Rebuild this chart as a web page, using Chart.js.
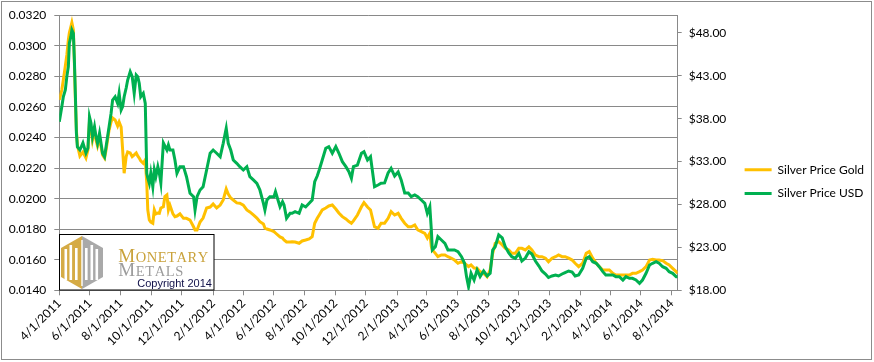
<!DOCTYPE html>
<html><head><meta charset="utf-8">
<script src="https://cdn.jsdelivr.net/npm/chart.js@4.4.1/dist/chart.umd.min.js"></script>
<style>html,body{margin:0;padding:0;background:#fff}#wrap{position:relative;width:874px;height:362px}</style>
</head><body><div id="wrap"><canvas id="c" width="874" height="362"></canvas></div>
<script>
const dates=[
"2011-04-01","2011-04-06","2011-04-09","2011-04-13","2011-04-16","2011-04-19","2011-04-21","2011-04-24","2011-04-26","2011-04-29",
"2011-05-01","2011-05-03","2011-05-05","2011-05-07","2011-05-12","2011-05-18","2011-05-24","2011-05-28","2011-05-31","2011-06-03",
"2011-06-06","2011-06-10","2011-06-13","2011-06-16","2011-06-20","2011-06-26","2011-06-30","2011-07-03","2011-07-06","2011-07-09",
"2011-07-13","2011-07-16","2011-07-21","2011-07-26","2011-07-29","2011-08-02","2011-08-05","2011-08-08","2011-08-12","2011-08-15",
"2011-08-20","2011-08-24","2011-08-28","2011-09-01","2011-09-04","2011-09-07","2011-09-10","2011-09-15","2011-09-19","2011-09-22",
"2011-09-24","2011-09-27","2011-09-30","2011-10-04","2011-10-07","2011-10-10","2011-10-14","2011-10-17","2011-10-20","2011-10-25",
"2011-10-28","2011-11-01","2011-11-04","2011-11-07","2011-11-13","2011-11-17","2011-11-21","2011-11-27","2011-12-04","2011-12-10",
"2011-12-17","2011-12-24","2011-12-27","2011-12-31","2012-01-06","2012-01-12","2012-01-19","2012-01-26","2012-02-01","2012-02-08",
"2012-02-15","2012-02-21","2012-02-27","2012-03-02","2012-03-07","2012-03-12","2012-03-19","2012-03-25","2012-04-01","2012-04-08",
"2012-04-14","2012-04-21","2012-04-28","2012-05-04","2012-05-11","2012-05-14","2012-05-18","2012-05-24","2012-06-01","2012-06-04",
"2012-06-13","2012-06-18","2012-06-21","2012-06-26","2012-07-03","2012-07-07","2012-07-13","2012-07-21","2012-07-27","2012-08-03",
"2012-08-10","2012-08-16","2012-08-21","2012-08-26","2012-08-30","2012-09-05","2012-09-12","2012-09-18","2012-09-25","2012-10-02",
"2012-10-08","2012-10-15","2012-10-22","2012-10-28","2012-11-02","2012-11-06","2012-11-14","2012-11-22","2012-11-27","2012-12-04",
"2012-12-10","2012-12-18","2012-12-25","2012-12-31","2013-01-07","2013-01-14","2013-01-20","2013-01-27","2013-02-03","2013-02-09",
"2013-02-16","2013-02-23","2013-03-01","2013-03-08","2013-03-14","2013-03-21","2013-03-28","2013-04-02","2013-04-07","2013-04-10",
"2013-04-12","2013-04-18","2013-04-23","2013-04-30","2013-05-07","2013-05-13","2013-05-20","2013-05-26","2013-06-02","2013-06-09",
"2013-06-15","2013-06-19","2013-06-23","2013-06-28","2013-07-04","2013-07-10","2013-07-16","2013-07-23","2013-07-30","2013-08-05",
"2013-08-10","2013-08-15","2013-08-22","2013-08-29","2013-09-04","2013-09-11","2013-09-17","2013-09-24","2013-10-01","2013-10-07",
"2013-10-14","2013-10-21","2013-10-27","2013-11-03","2013-11-10","2013-11-16","2013-11-23","2013-11-29","2013-12-06","2013-12-13",
"2013-12-19","2013-12-26","2014-01-01","2014-01-08","2014-01-15","2014-01-21","2014-01-28","2014-02-05","2014-02-12","2014-02-18",
"2014-02-25","2014-03-04","2014-03-10","2014-03-17","2014-03-23","2014-03-30","2014-04-06","2014-04-12","2014-04-19","2014-04-26",
"2014-05-02","2014-05-09","2014-05-15","2014-05-22","2014-05-29","2014-06-04","2014-06-11","2014-06-18","2014-06-24","2014-07-01",
"2014-07-07","2014-07-14","2014-07-21","2014-07-27","2014-08-03","2014-08-10","2014-08-13"
];
const silverUSD=[
37.65,39.40,40.56,41.35,42.90,44.06,46.79,47.56,48.34,47.95,
44.84,40.76,36.33,34.70,34.35,35.17,34.00,34.59,38.23,37.50,
35.90,37.07,35.90,35.13,36.30,33.97,33.57,34.74,35.90,37.07,
38.63,40.18,40.56,39.79,40.96,39.01,39.40,40.56,41.58,42.51,
43.48,42.90,40.96,43.09,42.90,42.13,40.56,40.96,39.79,31.64,
31.09,30.47,31.67,30.07,32.02,31.24,32.41,31.64,30.51,35.17,
34.82,34.35,34.93,34.35,34.35,33.19,31.64,32.41,32.41,31.24,
29.31,28.91,27.36,28.91,29.69,30.07,32.02,33.97,34.35,33.97,
33.57,35.13,36.88,35.13,34.35,33.19,32.80,32.41,32.02,32.41,
31.24,30.86,30.47,29.69,28.14,27.36,28.52,28.91,28.91,29.49,
27.74,28.33,27.94,26.39,26.97,26.97,27.16,26.97,27.94,27.71,
28.14,28.52,30.66,31.32,32.02,33.19,34.55,34.74,33.97,34.74,
34.00,32.99,32.41,31.82,31.05,32.41,32.60,33.97,34.15,33.19,
33.57,30.07,30.27,30.47,30.51,31.67,32.22,31.32,31.79,30.86,
29.34,29.34,28.91,29.11,28.91,28.52,28.14,26.97,27.74,25.03,
22.70,23.08,24.25,23.86,23.48,22.70,22.70,22.70,22.50,21.92,
21.15,19.59,18.42,19.98,19.20,20.37,19.59,20.25,19.67,19.98,
22.70,23.08,24.45,24.10,23.08,22.35,21.92,21.73,22.31,21.41,
21.76,22.50,22.23,21.41,20.83,20.25,19.90,19.49,19.67,19.78,
19.67,19.90,20.07,20.25,20.13,19.67,19.78,20.56,21.73,21.92,
21.33,21.15,20.75,20.17,19.78,19.78,19.78,19.59,19.59,19.20,
19.59,19.40,19.40,19.20,18.82,19.20,19.98,20.95,21.15,21.33,
21.15,20.75,20.56,20.17,19.98,19.59,19.59
];
const silverGold=[
0.02646,0.02711,0.02777,0.02868,0.02940,0.03039,0.03085,0.03124,0.03152,0.03104,
0.02888,0.02646,0.02449,0.02351,0.02279,0.02305,0.02266,0.02319,0.02502,0.02463,
0.02384,0.02449,0.02384,0.02345,0.02397,0.02286,0.02266,0.02319,0.02384,0.02449,
0.02502,0.02528,0.02515,0.02476,0.02502,0.02469,0.02319,0.02166,0.02275,0.02305,
0.02299,0.02275,0.02286,0.02299,0.02279,0.02266,0.02247,0.02231,0.02253,0.02101,
0.01926,0.01860,0.01847,0.01839,0.01926,0.01900,0.01906,0.01904,0.01939,0.01947,
0.02013,0.02024,0.01926,0.01958,0.01900,0.01882,0.01886,0.01900,0.01871,0.01871,
0.01860,0.01816,0.01795,0.01795,0.01847,0.01873,0.01939,0.01945,0.01965,0.01939,
0.01958,0.01991,0.02063,0.02030,0.02004,0.01991,0.01972,0.01970,0.01958,0.01926,
0.01913,0.01893,0.01873,0.01849,0.01834,0.01808,0.01801,0.01795,0.01784,0.01775,
0.01749,0.01742,0.01729,0.01716,0.01716,0.01718,0.01716,0.01708,0.01723,0.01729,
0.01736,0.01751,0.01839,0.01871,0.01893,0.01926,0.01939,0.01952,0.01958,0.01932,
0.01906,0.01882,0.01867,0.01850,0.01839,0.01854,0.01893,0.01947,0.01974,0.01945,
0.01926,0.01816,0.01806,0.01839,0.01839,0.01871,0.01915,0.01893,0.01904,0.01871,
0.01839,0.01816,0.01816,0.01828,0.01795,0.01784,0.01773,0.01742,0.01773,0.01685,
0.01664,0.01642,0.01620,0.01631,0.01631,0.01620,0.01610,0.01598,0.01577,0.01587,
0.01577,0.01566,0.01555,0.01566,0.01546,0.01544,0.01522,0.01511,0.01489,0.01533,
0.01642,0.01708,0.01718,0.01697,0.01675,0.01664,0.01642,0.01642,0.01675,0.01675,
0.01664,0.01685,0.01664,0.01631,0.01620,0.01620,0.01610,0.01587,0.01610,0.01620,
0.01631,0.01620,0.01620,0.01610,0.01598,0.01577,0.01555,0.01577,0.01642,0.01653,
0.01610,0.01577,0.01555,0.01533,0.01533,0.01533,0.01511,0.01500,0.01500,0.01500,
0.01500,0.01500,0.01511,0.01511,0.01522,0.01533,0.01555,0.01598,0.01603,0.01598,
0.01598,0.01594,0.01577,0.01566,0.01544,0.01522,0.01511
];
const leftTicks=[0.0140,0.0160,0.0180,0.0200,0.0220,0.0240,0.0260,0.0280,0.0300,0.0320];
const rightTicks=[18,23,28,33,38,43,48];
const xTickLabels=["4/1/2011","6/1/2011","8/1/2011","10/1/2011","12/1/2011","2/1/2012","4/1/2012","6/1/2012","8/1/2012","10/1/2012","12/1/2012","2/1/2013","4/1/2013","6/1/2013","8/1/2013","10/1/2013","12/1/2013","2/1/2014","4/1/2014","6/1/2014","8/1/2014"];
const seriesNames=["Silver Price Gold","Silver Price USD"];
const logoWords=["MONETARY","METALS","Copyright 2014"];

const DAY=864e5, T0=Date.UTC(2011,3,1);
const dayOf=s=>{const [y,m,d]=s.split('-').map(Number);return (Date.UTC(y,m-1,d)-T0)/DAY;};
const dayOfUS=s=>{const [m,d,y]=s.split('/').map(Number);return (Date.UTC(y,m-1,d)-T0)/DAY;};

const GRID='#898989';
const PAD_BOTTOM=14;
Chart.defaults.font.family='Lato, "Liberation Sans", sans-serif';
Chart.defaults.font.size=12;
Chart.defaults.color='#000';

const framePlugin={id:'frame',
  beforeDraw(chart){const c=chart.ctx;c.save();c.fillStyle='#fff';c.fillRect(0,0,chart.width,chart.height);c.restore();},
  afterDraw(chart){const c=chart.ctx;c.save();c.strokeStyle='#8c8c8c';c.lineWidth=1;c.strokeRect(1.5,1.5,870,358);c.restore();}
};

function drawSpaced(c,first,rest,x,y,bigSize,smallSize,width){
  c.font=bigSize+'px "Liberation Serif", "DejaVu Serif", serif';
  const wm=c.measureText(first).width;
  c.fillText(first,x,y);
  c.font=smallSize+'px "Liberation Serif", "DejaVu Serif", serif';
  const letters=rest.split('');
  const ws=letters.map(l=>c.measureText(l).width);
  const tot=ws.reduce((a,b)=>a+b,0);
  const gap=(width-wm-tot)/letters.length;
  let cx=x+wm+gap;
  letters.forEach((l,i)=>{c.fillText(l,cx,y);cx+=ws[i]+gap;});
}

const logoPlugin={id:'logo',
  afterDraw(chart){
    const c=chart.ctx;c.save();
    c.fillStyle='#fff';c.fillRect(59.5,234.5,154.5,55.5);
    c.strokeStyle='#000';c.lineWidth=1;c.strokeRect(59.5,234.5,154.5,55.5);
    c.fillStyle='#D5AB45';
    c.beginPath();c.moveTo(61,248);c.lineTo(82,236);c.lineTo(82,289);c.lineTo(61,277);c.closePath();c.fill();
    c.fillStyle='#A9A9A9';
    c.beginPath();c.moveTo(82,236);c.lineTo(103,248);c.lineTo(103,277);c.lineTo(82,289);c.closePath();c.fill();
    c.fillStyle='#fff';
    [[64.5,249,2.6,31],[69.5,245,2.6,35],[75,248,2.6,32],[85,248,2.6,32],[90.5,245,2.6,35],[95.5,249,2.6,31]].forEach(r=>c.fillRect(r[0],r[1],r[2],r[3]));
    c.fillRect(81.3,240,1.4,46);
    c.textBaseline='alphabetic';c.textAlign='left';
    c.fillStyle='#C9A23A';
    drawSpaced(c,logoWords[0][0],logoWords[0].slice(1),118.3,262.3,19,14.5,90);
    c.fillStyle='#9C9C9C';
    drawSpaced(c,logoWords[1][0],logoWords[1].slice(1),118.3,275.7,19,14.5,65);
    c.fillStyle='#101048';
    c.font='11px "Liberation Sans", Arial, sans-serif';
    c.fillText(logoWords[2],137.3,287.2);
    c.restore();
  }
};

const usdData=dates.map((d,i)=>({x:dayOf(d),y:silverUSD[i]}));
const goldData=dates.map((d,i)=>({x:dayOf(d),y:silverGold[i]}));

new Chart(document.getElementById('c'),{
  type:'line',
  data:{datasets:[
    {label:seriesNames[1],data:usdData,yAxisID:'y1',borderColor:'#00B050',backgroundColor:'#00B050',borderWidth:3,pointRadius:0,tension:0,fill:false},
    {label:seriesNames[0],data:goldData,yAxisID:'y',borderColor:'#FFC000',backgroundColor:'#FFC000',borderWidth:3,pointRadius:0,tension:0,fill:false}
  ]},
  options:{
    responsive:false,animation:false,events:[],
    layout:{padding:{left:0,top:15.3,right:0,bottom:PAD_BOTTOM}},
    plugins:{
      tooltip:{enabled:false},
      legend:{position:'right',reverse:true,
        labels:{boxWidth:27,boxHeight:3,padding:11.7,color:'#000',font:{size:12},
          generateLabels:ch=>ch.data.datasets.map((ds,i)=>({text:ds.label,fillStyle:ds.borderColor,strokeStyle:ds.borderColor,lineWidth:0,hidden:false,datasetIndex:i,fontColor:'#000'}))}}
    },
    scales:{
      x:{type:'linear',min:0,max:dayOf(dates[dates.length-1]),
        afterBuildTicks:s=>{s.ticks=xTickLabels.map(l=>({value:dayOfUS(l)}));},
        ticks:{autoSkip:false,minRotation:45,maxRotation:45,padding:1,
          callback:v=>{const l=xTickLabels.find(t=>dayOfUS(t)===v);return l||'';}},
        grid:{drawOnChartArea:false,drawTicks:true,tickLength:5,color:GRID},
        border:{color:GRID,width:1},
        afterFit:s=>{s.height=362-290.3-PAD_BOTTOM;}},
      y:{position:'left',min:0.014,max:0.032,
        afterBuildTicks:s=>{s.ticks=leftTicks.map(v=>({value:v}));},
        ticks:{callback:v=>Number(v).toFixed(4),padding:8},
        grid:{color:GRID,tickLength:5,lineWidth:1},
        border:{color:GRID,width:1},
        afterFit:s=>{s.width=59.3;}},
      y1:{position:'right',min:18,max:50.05,
        afterBuildTicks:s=>{s.ticks=rightTicks.map(v=>({value:v}));},
        ticks:{callback:v=>'$'+Number(v).toFixed(2),padding:7},
        grid:{drawOnChartArea:false,tickLength:4,color:GRID},
        border:{color:GRID,width:1},
        afterFit:s=>{s.width=s.chart.width-677.7-(s.chart.legend?s.chart.legend.width:140);}}
    }
  },
  plugins:[framePlugin,logoPlugin]
});
</script></body></html>
